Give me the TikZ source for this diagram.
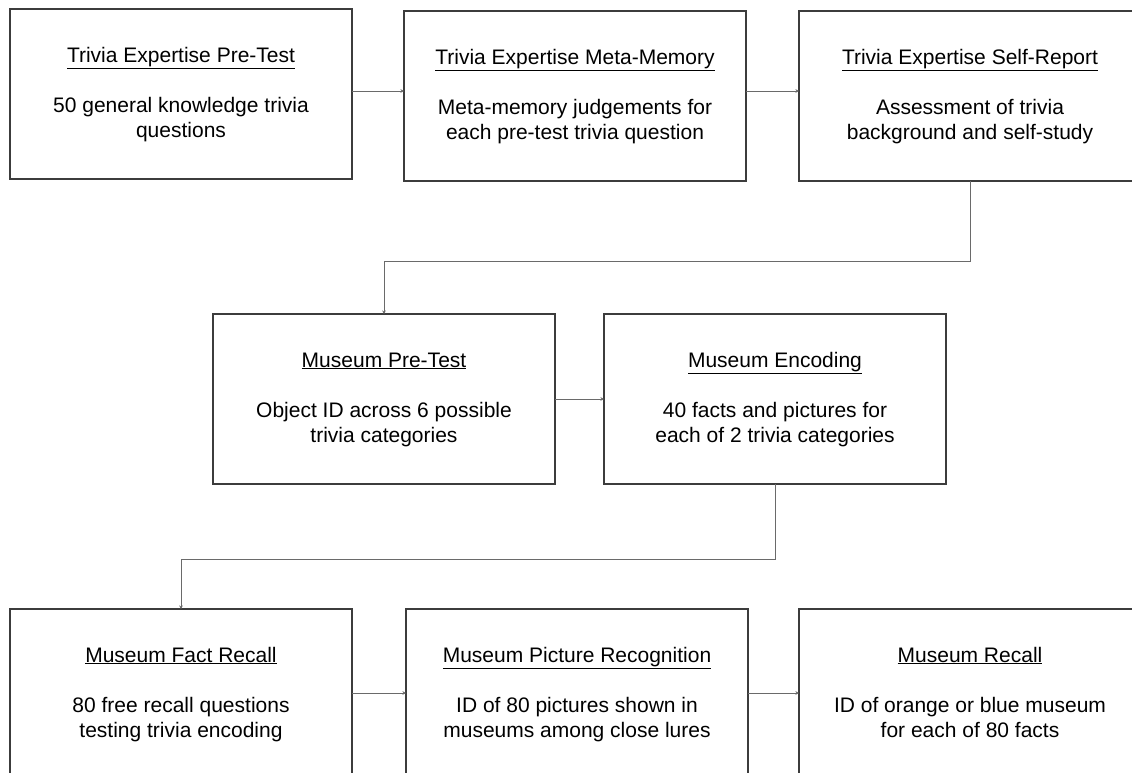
\documentclass[tikz,border=0pt]{standalone}
\usepackage{fontspec}
\setmainfont{Liberation Sans}
\usetikzlibrary{arrows.meta}
\definecolor{boxgray}{HTML}{3C3C3C}
\definecolor{linegray}{HTML}{6A6A6A}
\begin{document}
\begin{tikzpicture}[x=1pt,y=-1pt,
  stagebox/.style={draw=boxgray, line width=1.1pt, minimum width=342pt, minimum height=170pt, anchor=north west, inner sep=0pt, outer sep=0pt},
  ttl/.style={anchor=base, font=\fontsize{21}{25}\selectfont, inner sep=0pt, text=black},
  bodytxt/.style={anchor=base, font=\fontsize{21}{25}\selectfont, inner sep=0pt, text=black},
  conn/.style={draw=linegray, line width=0.8pt, -{Stealth[length=3.5pt,width=3.5pt]}}]
\useasboundingbox (0,0) rectangle (1132,772);
\clip (0,0) rectangle (1132,772);
\fill[white] (0,0) rectangle (1132,772);
\foreach \n/\x/\y/\t/\a/\b in {
  1/10/9/Trivia Expertise Pre-Test/50 general knowledge trivia/questions,
  2/404/11/Trivia Expertise Meta-Memory/Meta-memory judgements for/each pre-test trivia question,
  3/799/11/Trivia Expertise Self-Report/Assessment of trivia/background and self-study,
  4/213/314/Museum Pre-Test/Object ID across 6 possible/trivia categories,
  5/604/314/Museum Encoding/40 facts and pictures for/each of 2 trivia categories,
  6/10/609/Museum Fact Recall/80 free recall questions/testing trivia encoding,
  7/406/609/Museum Picture Recognition/ID of 80 pictures shown in/museums among close lures,
  8/799/609/Museum Recall/ID of orange or blue museum/for each of 80 facts}
{
  \node[stagebox] (b\n) at (\x,\y) {};
  \node[ttl] (b\n-t) at ([yshift=-53pt]b\n.north) {\underline{\t}};
  \node[bodytxt] (b\n-l1) at ([yshift=-103pt]b\n.north) {\a};
  \node[bodytxt] (b\n-l2) at ([yshift=-128pt]b\n.north) {\b};
}
% row 1 connectors
\coordinate (c12) at (0,91);
\draw[conn] (b1.east |- c12) -- (b2.west |- c12);
\draw[conn] (b2.east |- c12) -- (b3.west |- c12);
% down to row 2
\coordinate (k1) at (0,261);
\draw[conn] (b3.south) -- (b3.south |- k1) -- (b4.north |- k1) -- (b4.north);
\draw[conn] (b4.east) -- (b5.west);
% down to row 3
\coordinate (k2) at (0,559);
\draw[conn] (b5.south) -- (b5.south |- k2) -- (b6.north |- k2) -- (b6.north);
\coordinate (c67) at (0,693);
\draw[conn] (b6.east |- c67) -- (b7.west |- c67);
\draw[conn] (b7.east |- c67) -- (b8.west |- c67);
\end{tikzpicture}
\end{document}
